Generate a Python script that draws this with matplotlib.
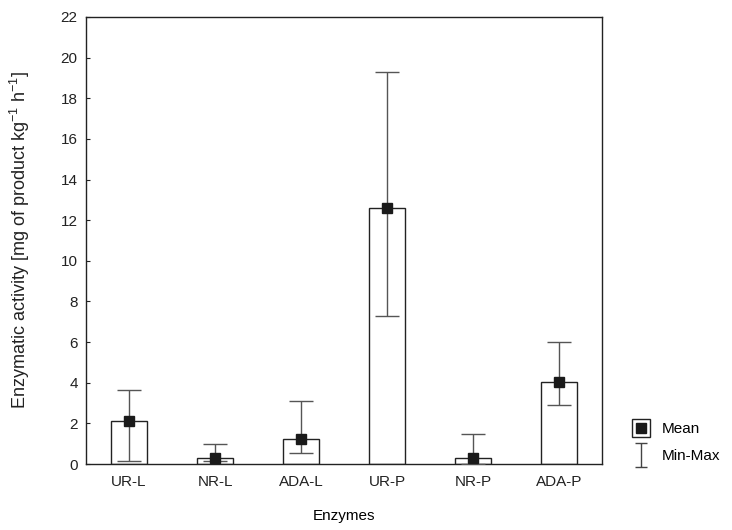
import matplotlib
matplotlib.use("Agg")
import matplotlib.pyplot as plt
from matplotlib.lines import Line2D
from matplotlib.path import Path
from matplotlib.legend_handler import HandlerTuple
import numpy as np

plt.rcParams['font.family'] = ['Liberation Sans', 'DejaVu Sans']
plt.rcParams['mathtext.fontset'] = 'custom'
plt.rcParams['mathtext.rm'] = 'Liberation Sans'

enzymes = ["UR-L", "NR-L", "ADA-L", "UR-P", "NR-P", "ADA-P"]
means = [2.1, 0.3, 1.25, 12.6, 0.3, 4.05]
mins = [0.15, 0.15, 0.55, 7.3, 0.0, 2.9]
maxs = [3.65, 1.0, 3.1, 19.3, 1.5, 6.0]

x = np.arange(len(enzymes))
means_a = np.array(means)
yerr = [means_a - np.array(mins), np.array(maxs) - means_a]

fs = 11

fig = plt.figure(figsize=(7.32, 5.30), dpi=100)
ax = fig.add_axes([0.1175, 0.1245, 0.705, 0.8435])

ax.bar(x, means, width=0.41, color="white", edgecolor="#222222", linewidth=1.0, zorder=2)
ax.errorbar(x, means, yerr=yerr, fmt="none", ecolor="#555555", elinewidth=1.0,
            capsize=8.5, capthick=1.0, zorder=3)
ax.plot(x, means, "s", color="#1a1a1a", markersize=7.5, zorder=4)

ax.set_xlim(-0.5, len(enzymes) - 0.5)
ax.set_ylim(0, 22)
ax.set_yticks(np.arange(0, 23, 2))
ax.set_xticks(x)
ax.set_xticklabels(enzymes)
ax.tick_params(direction="in", length=3, labelsize=fs, colors="#222222")
ax.tick_params(axis="x", pad=8)
ax.tick_params(axis="y", pad=6)
for s in ax.spines.values():
    s.set_color("#222222")
    s.set_linewidth(1.0)

ax.set_xlabel("Enzymes", fontsize=fs, labelpad=14)
ax.set_ylabel("Enzymatic activity [mg of product kg$^{\u2212\\mathrm{1}}$ h$^{\u2212\\mathrm{1}}$]",
              fontsize=13, labelpad=21, color="#222222")

# legend handles: boxed square for the mean, capped bar for the range
box = Line2D([], [], marker="s", linestyle="none", markersize=13,
             markerfacecolor="white", markeredgecolor="#222222", markeredgewidth=1.0)
dot = Line2D([], [], marker="s", linestyle="none", markersize=7.5, color="#1a1a1a")
ibar = Path([(-0.5, -1), (0.5, -1), (0, -1), (0, 1), (-0.5, 1), (0.5, 1)],
            [Path.MOVETO, Path.LINETO, Path.MOVETO, Path.LINETO, Path.MOVETO, Path.LINETO])
rng = Line2D([], [], marker=ibar, linestyle="none", markersize=17,
             markerfacecolor="none", markeredgecolor="#444444", markeredgewidth=1.0)
fig.legend([(box, dot), rng], ["Mean", "Min-Max"],
           handler_map={tuple: HandlerTuple(ndivide=1)},
           loc="lower left", bbox_to_anchor=(0.845, 0.1), frameon=False,
           fontsize=fs, handlelength=1.2, handletextpad=0.7, labelspacing=0.85)

fig.savefig("out.png", dpi=100)
